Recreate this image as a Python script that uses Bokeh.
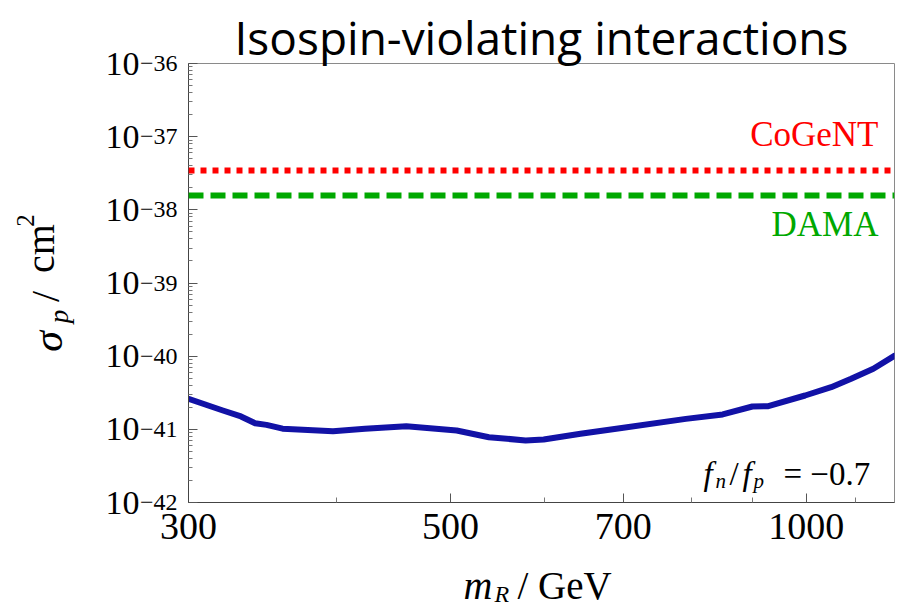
import numpy as np
from bokeh.plotting import figure
from bokeh.layouts import row, column
from bokeh.models import (FixedTicker, Label, Range1d, Span, PrintfTickFormatter,
                          CustomJSTickFormatter, LogAxis)
from bokeh.core.properties import value
from bokeh.embed import file_html
from bokeh.resources import INLINE

# ---------------- data ----------------
mass_gev = [300, 320.8, 332.3, 341.6, 349.3, 360.4, 397.6, 423.2, 458.7, 506, 538.8,
            578.8, 599.5, 644.2, 697.9, 791, 849.9, 900.5, 929, 998, 1050, 1091.7,
            1140, 1188.6]
sigma_p = [2.62e-41, 1.81e-41, 1.50e-41, 1.21e-41, 1.15e-41, 1.02e-41, 9.44e-42,
           1.02e-41, 1.10e-41, 9.64e-42, 7.81e-42, 7.05e-42, 7.27e-42, 8.69e-42,
           1.04e-41, 1.39e-41, 1.60e-41, 2.05e-41, 2.07e-41, 2.90e-41, 3.77e-41,
           4.91e-41, 6.72e-41, 1.02e-40]
cogent_sigma = 3.45e-38
dama_sigma = 1.57e-38
x_limits = [300, 1188]
y_limits = [1e-42, 1e-36]
x_ticks = [300, 500, 700, 1000]
x_minor = [400, 600, 800, 900, 1100]
y_exponents = [-42, -41, -40, -39, -38, -37, -36]
title_text = "Isospin-violating interactions"

y_ticks = [10.0 ** e for e in y_exponents]
y_minor = [m * 10.0 ** e for e in y_exponents[:-1] for m in range(2, 10)]

SERIF = "Liberation Serif"

# ---------------- layout (picture pixels) ----------------
TOTAL_W, TOTAL_H = 899, 608
LEFT_W = 80          # strip holding the y-axis title
BOTTOM_H = 48        # strip holding the x-axis title
FL, FT, FR, FB = 188, 63, 894, 502   # plot frame
MAIN_W, MAIN_H = TOTAL_W - LEFT_W, TOTAL_H - BOTTOM_H


def text_strip(width, height, top=0, bottom=0):
    # ranges are in picture pixels over the strip's own frame
    f = figure(width=width, height=height, x_range=Range1d(0, width),
               y_range=Range1d(height - bottom, top), output_backend="svg",
               toolbar_location=None, x_axis_location=None, y_axis_location=None,
               min_border_left=0, min_border_right=0, min_border_top=top,
               min_border_bottom=bottom, outline_line_color=None)
    f.xgrid.visible = False
    f.ygrid.visible = False
    f.background_fill_color = None
    f.border_fill_color = None
    return f


# ---------------- main plot ----------------
p = figure(width=MAIN_W, height=MAIN_H, x_axis_type="log", y_axis_type="log",
           x_range=Range1d(*x_limits), y_range=Range1d(*y_limits),
           output_backend="svg", toolbar_location=None,
           min_border_left=FL - LEFT_W, min_border_right=TOTAL_W - FR,
           min_border_top=FT, min_border_bottom=MAIN_H - FB)
p.xgrid.visible = False
p.ygrid.visible = False
p.outline_line_color = "#8a8a8a"
p.outline_line_width = 1
p.background_fill_color = "white"
p.border_fill_color = "white"

p.title.text = title_text
p.title.text_font = "Open Sans"
p.title.text_font_size = "46px"
p.title.text_font_style = "normal"
p.title.text_color = "black"
p.title.align = "center"
p.title.standoff = -9

# x axis
p.xaxis.ticker = FixedTicker(ticks=x_ticks, minor_ticks=x_minor)
p.xaxis.formatter = PrintfTickFormatter(format="%d")
p.xaxis.major_tick_in = 9
p.xaxis.major_tick_out = 0
p.xaxis.minor_tick_in = 5
p.xaxis.minor_tick_out = 0
p.xaxis.major_label_text_font = SERIF
p.xaxis.major_label_text_font_size = "38px"
p.xaxis.major_label_text_color = "black"
p.xaxis.major_label_standoff = 11
p.xaxis.axis_line_color = "#444444"
p.xaxis.major_tick_line_color = "#555555"
p.xaxis.minor_tick_line_color = "#777777"

# y axis: inner axis carries the exponents, outer axis the "10"
p.yaxis.ticker = FixedTicker(ticks=y_ticks, minor_ticks=y_minor)
p.yaxis.formatter = CustomJSTickFormatter(
    code="return '\\u2212' + Math.round(-Math.log10(tick));")
p.yaxis.major_tick_in = 9
p.yaxis.major_tick_out = 0
p.yaxis.minor_tick_in = 4
p.yaxis.minor_tick_out = 0
p.yaxis.major_label_text_font = SERIF
p.yaxis.major_label_text_font_size = "24px"
p.yaxis.major_label_text_color = "black"
p.yaxis.major_label_text_baseline = "alphabetic"
p.yaxis.major_label_standoff = 11
p.yaxis.axis_line_color = "#444444"
p.yaxis.major_tick_line_color = "#555555"
p.yaxis.minor_tick_line_color = "#777777"

base_axis = LogAxis(ticker=FixedTicker(ticks=y_ticks),
                    formatter=CustomJSTickFormatter(code="return '10';"),
                    axis_line_color=None, major_tick_line_color=None,
                    minor_tick_line_color=None, major_label_standoff=-9,
                    major_label_text_font=SERIF, major_label_text_font_size="34px",
                    major_label_text_color="black")
p.add_layout(base_axis, "left")

# reference lines
p.add_layout(Span(location=cogent_sigma, dimension="width", line_color="#ff0000",
                  line_width=6, line_dash="6 6"))
p.add_layout(Span(location=dama_sigma, dimension="width", line_color="#00a800",
                  line_width=6, line_dash="15 7"))

# limit curve
p.line(mass_gev, sigma_p, line_color="#1212a6", line_width=6, line_join="round",
       line_cap="round")


def lab(text, px, py, size, style="normal", color="black", align="left",
        baseline="middle"):
    # screen units of an in-frame label are measured from the frame's bottom-left
    p.add_layout(Label(x=px - FL, y=FB - py, x_units="screen", y_units="screen",
                       text=text, text_font=SERIF, text_font_size=f"{size}px",
                       text_font_style=style, text_color=color, text_align=align,
                       text_baseline=baseline))


lab("CoGeNT", 878, 134, 35, color="#ff0000", align="right")
lab("DAMA", 878, 224, 35, color="#00a800", align="right")
lab("f", 703, 473, 33, style="italic")
lab("n", 715, 480, 21, style="italic")
lab("/", 729, 473, 33)
lab("f", 742, 473, 33, style="italic")
lab("p", 753, 480, 21, style="italic")
lab("= \u22120.7", 783, 473, 33)

# ---------------- y-axis title strip (frame aligned with the plot frame) ----------------
ly = text_strip(LEFT_W, MAIN_H, top=FT, bottom=MAIN_H - FB)
ang = np.pi / 2


def ytxt(t, x, y, size, style="normal"):
    ly.text(x=[x], y=[y], text=[t], angle=ang, text_font=value(SERIF),
            text_font_size=f"{size}px", text_font_style=style, text_color="black",
            text_align="center", text_baseline="middle")


ytxt("\u03c3", 47, 341, 42, "italic")
ytxt("p", 58, 316, 27, "italic")
ytxt("/", 45, 296, 40)
ytxt("cm", 40, 248, 40)
ytxt("2", 25, 220, 25)

# ---------------- x-axis title strip ----------------
bx = text_strip(TOTAL_W, BOTTOM_H)


def xtxt(t, x, y, size, style="normal"):
    bx.text(x=[x], y=[y - MAIN_H], text=[t], text_font=value(SERIF),
            text_font_size=f"{size}px", text_font_style=style, text_color="black",
            text_align="left", text_baseline="middle")


xtxt("m", 463, 585, 40, "italic")
xtxt("R", 494, 593, 24, "italic")
xtxt("/ GeV", 517, 585, 39)

layout = column(row(ly, p, spacing=0), bx, spacing=0)
open("out.html", "w").write(file_html(layout, INLINE))
